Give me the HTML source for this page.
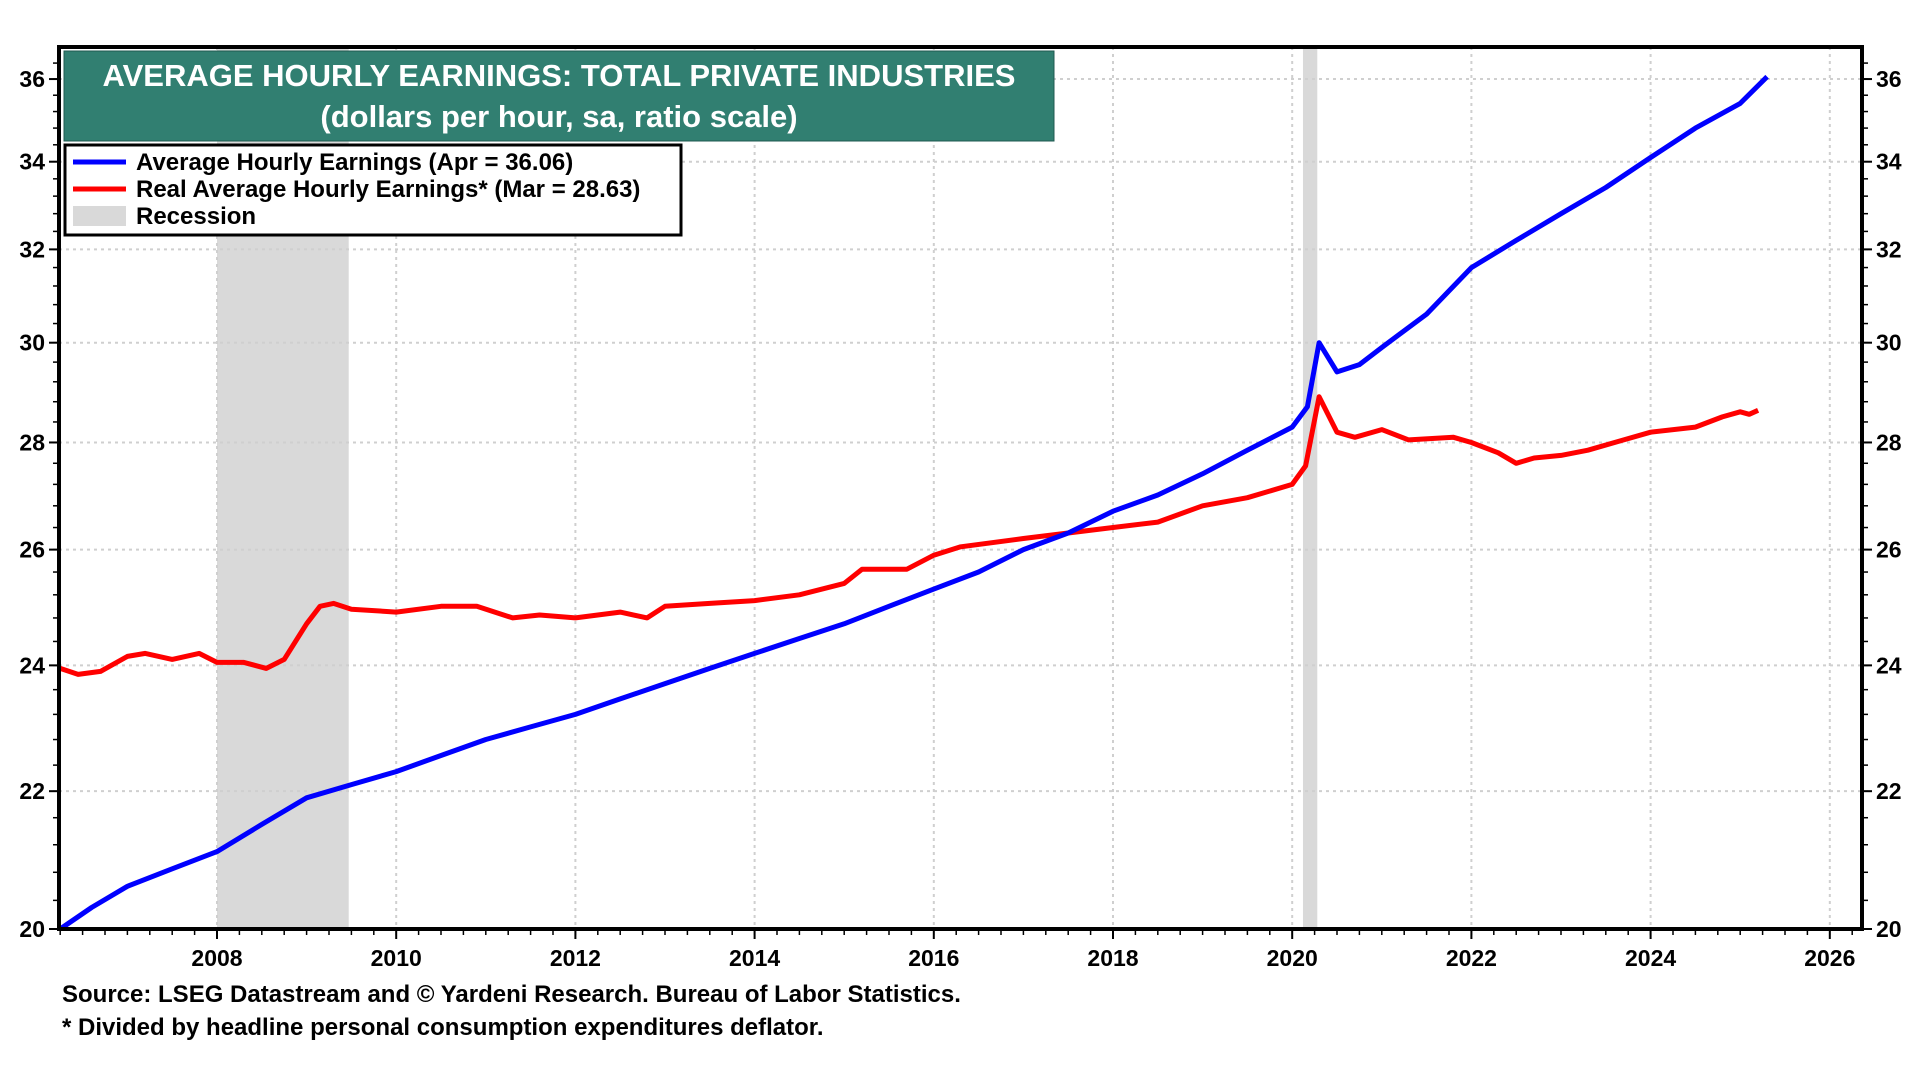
<!DOCTYPE html>
<html><head><meta charset="utf-8"><style>
html,body{margin:0;padding:0;background:#fff;}
svg{display:block;font-family:"Liberation Sans",Arial,sans-serif;font-weight:bold;}
</style></head><body>
<svg id="chart" width="1920" height="1080" viewBox="0 0 1920 1080" xmlns="http://www.w3.org/2000/svg">
<g id="rec"></g>
<g id="grid"></g>
<g id="series"></g>
<g id="axes"></g>
<g>
<rect x="64" y="51" width="990" height="90" fill="#317f71" stroke="#1f5a50" stroke-width="1"/>
<text x="559" y="86" fill="#fff" font-size="31" text-anchor="middle">AVERAGE HOURLY EARNINGS: TOTAL PRIVATE INDUSTRIES</text>
<text x="559" y="127" fill="#fff" font-size="31" text-anchor="middle">(dollars per hour, sa, ratio scale)</text>
</g>
<g>
<rect x="65" y="145" width="616" height="90" fill="#fff" stroke="#000" stroke-width="3"/>
<line x1="73" y1="162" x2="126" y2="162" stroke="#0000ff" stroke-width="5"/>
<text x="136" y="170" font-size="24">Average Hourly Earnings (Apr = 36.06)</text>
<line x1="73" y1="189" x2="126" y2="189" stroke="#ff0000" stroke-width="5"/>
<text x="136" y="197" font-size="24">Real Average Hourly Earnings* (Mar = 28.63)</text>
<rect x="73" y="206" width="53" height="20" fill="#d9d9d9"/>
<text x="136" y="224" font-size="24">Recession</text>
</g>
<text x="62" y="1002" font-size="24">Source: LSEG Datastream and © Yardeni Research. Bureau of Labor Statistics.</text>
<text x="62" y="1035" font-size="24">* Divided by headline personal consumption expenditures deflator.</text>
</svg>
<script>
const nomYears=[2006.25,2006.6,2007,2007.5,2008,2008.5,2009,2009.5,2010,2010.5,2011,2011.5,2012,2012.5,2013,2013.5,2014,2014.5,2015,2015.5,2016,2016.5,2017,2017.5,2018,2018.5,2019,2019.5,2020,2020.17,2020.3,2020.5,2020.75,2021,2021.5,2022,2022.5,2023,2023.5,2024,2024.5,2025,2025.3];
const nomVals=[20.0,20.3,20.6,20.85,21.1,21.5,21.9,22.1,22.3,22.55,22.8,23.0,23.2,23.45,23.7,23.95,24.2,24.45,24.7,25.0,25.3,25.6,26.0,26.3,26.7,27.0,27.4,27.85,28.3,28.7,30.0,29.4,29.55,29.9,30.6,31.6,32.2,32.8,33.4,34.1,34.8,35.4,36.06];
const realYears=[2006.25,2006.45,2006.7,2007,2007.2,2007.5,2007.8,2008,2008.3,2008.55,2008.75,2009,2009.15,2009.3,2009.5,2010,2010.5,2010.9,2011.3,2011.6,2012,2012.5,2012.8,2013,2013.5,2014,2014.5,2015,2015.2,2015.7,2016,2016.3,2017,2017.5,2018,2018.5,2019,2019.5,2020,2020.15,2020.3,2020.5,2020.7,2021,2021.3,2021.8,2022,2022.3,2022.5,2022.7,2023,2023.3,2023.7,2024,2024.5,2024.8,2025,2025.1,2025.2];
const realVals=[23.95,23.85,23.9,24.15,24.2,24.1,24.2,24.05,24.05,23.95,24.1,24.7,25.0,25.05,24.95,24.9,25.0,25.0,24.8,24.85,24.8,24.9,24.8,25.0,25.05,25.1,25.2,25.4,25.65,25.65,25.9,26.05,26.2,26.3,26.4,26.5,26.8,26.95,27.2,27.55,28.9,28.2,28.1,28.25,28.05,28.1,28.0,27.8,27.6,27.7,27.75,27.85,28.05,28.2,28.3,28.5,28.6,28.55,28.63];
const recStarts=[2008.0,2020.12];
const recEnds=[2009.47,2020.28];
const yTicks=[20,22,24,26,28,30,32,34,36];
const xTicks=[2008,2010,2012,2014,2016,2018,2020,2022,2024,2026];
const NS='http://www.w3.org/2000/svg';
const L=59,R=1862,T=47,B=929;
function xs(y){return 217+(y-2008)*89.6;}
function ys(v){return 929-Math.log(v/20)*1446;}
function mk(tag,attrs,parent){const e=document.createElementNS(NS,tag);for(const k in attrs)e.setAttribute(k,attrs[k]);parent.appendChild(e);return e;}
const rec=document.getElementById('rec'),grid=document.getElementById('grid'),ser=document.getElementById('series'),ax=document.getElementById('axes');
recStarts.forEach((s,i)=>{const r=mk('rect',{x:xs(s),y:T,width:xs(recEnds[i])-xs(s),height:B-T,fill:'#d9d9d9'},rec);

});
xTicks.forEach(t=>{const l=mk('line',{x1:xs(t),y1:T,x2:xs(t),y2:B,stroke:'#cfcfcf','stroke-width':2,'stroke-dasharray':'3,4'},grid);


const tx=mk('text',{x:xs(t),y:966,'font-size':23,'text-anchor':'middle'},ax);tx.textContent=t;


mk('line',{x1:xs(t),y1:B,x2:xs(t),y2:B+10,stroke:'#000','stroke-width':2},ax);});
for(let q=2006.25;q<2026.6;q+=0.25){if(xs(q)>L&&xs(q)<R)mk('line',{x1:xs(q),y1:B,x2:xs(q),y2:B+6,stroke:'#000','stroke-width':1.5},ax);}
yTicks.forEach(t=>{const l=mk('line',{x1:L,y1:ys(t),x2:R,y2:ys(t),stroke:'#cfcfcf','stroke-width':2,'stroke-dasharray':'3,4'},grid);


const a=mk('text',{x:L-14,y:ys(t)+8,'font-size':23,'text-anchor':'end'},ax);a.textContent=t;


const b=mk('text',{x:R+14,y:ys(t)+8,'font-size':23,'text-anchor':'start'},ax);b.textContent=t;


mk('line',{x1:L-10,y1:ys(t),x2:L,y2:ys(t),stroke:'#000','stroke-width':2},ax);
mk('line',{x1:R,y1:ys(t),x2:R+10,y2:ys(t),stroke:'#000','stroke-width':2},ax);});
for(let v=20.4;v<36.9;v+=0.4){const y=ys(v);if(y>T+2){mk('line',{x1:L-6,y1:y,x2:L,y2:y,stroke:'#000','stroke-width':1.5},ax);mk('line',{x1:R,y1:y,x2:R+6,y2:y,stroke:'#000','stroke-width':1.5},ax);}}
function path(xv,yv,color,name){const d=xv.map((x,i)=>(i?'L':'M')+xs(x).toFixed(1)+','+ys(yv[i]).toFixed(1)).join('');
const p=mk('path',{d:d,fill:'none',stroke:color,'stroke-width':5,'stroke-linejoin':'round'},ser);

}
path(realYears,realVals,'#ff0000','real-earnings-line');
path(nomYears,nomVals,'#0000ff','nominal-earnings-line');
const fr=mk('rect',{x:L,y:T,width:R-L,height:B-T,fill:'none',stroke:'#000','stroke-width':4},ax);


</script>
</body></html>
